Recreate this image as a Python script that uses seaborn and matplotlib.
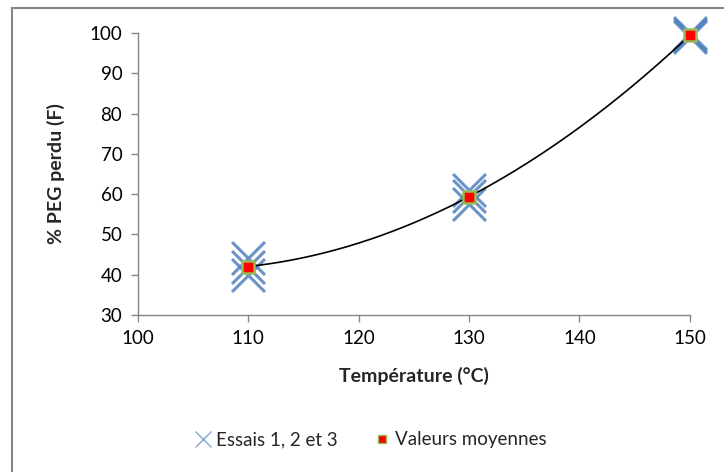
import numpy as np
import pandas as pd
import seaborn as sns
import matplotlib.pyplot as plt
from matplotlib.lines import Line2D
from matplotlib.patches import Rectangle

# three runs at each temperature
temperature = [110, 110, 110, 130, 130, 130, 150, 150, 150]
peg_lost = [44, 42, 40, 61, 59.5, 57.5, 100, 99.5, 99]

xticks = [100, 110, 120, 130, 140, 150]
yticks = [30, 40, 50, 60, 70, 80, 90, 100]

df = pd.DataFrame({"temp": temperature, "F": peg_lost})
means = df.groupby("temp", as_index=False)["F"].mean()

# 2nd order polynomial trend through the means (like Excel trendline)
coef = np.polyfit(means.temp, means.F, 2)
xs = np.linspace(110, 150, 200)
trend = pd.DataFrame({"temp": xs, "F": np.polyval(coef, xs)})

sns.set_style("white")
plt.rcParams["font.family"] = ["Lato", "DejaVu Sans"]

fig = plt.figure(figsize=(7.24, 4.72), dpi=100)
ax = fig.add_axes([0.19, 0.333, 0.763, 0.597])

blue = "#4F81BD"
sns.scatterplot(data=df, x="temp", y="F", marker="x", s=560, color=blue,
                linewidth=2.2, alpha=0.85, ax=ax, zorder=2, legend=False,
                clip_on=False)
sns.lineplot(data=trend, x="temp", y="F", color="black", linewidth=1.2,
             ax=ax, zorder=3)
sns.scatterplot(data=means, x="temp", y="F", marker="s", s=75, color="red",
                edgecolor="#9BBB59", linewidth=1.8, ax=ax, zorder=4, legend=False,
                clip_on=False)
for ln in ax.lines:
    ln.set_clip_on(False)

ax.set_xlim(100, 150)
ax.set_ylim(30, 100)
ax.set_xticks(xticks)
ax.set_yticks(yticks)
ax.tick_params(axis="both", labelsize=13.5, colors="#868686", length=5,
               width=1, direction="out", bottom=True, left=True, pad=6)
for s in ["top", "right"]:
    ax.spines[s].set_visible(False)
for s in ["left", "bottom"]:
    ax.spines[s].set_color("#868686")
    ax.spines[s].set_linewidth(1)
for lbl in ax.get_xticklabels() + ax.get_yticklabels():
    lbl.set_color("black")

ax.set_xlabel("Température (°C)", fontsize=14, fontweight="bold", labelpad=14)
ax.set_ylabel("% PEG perdu (F)", fontsize=14, fontweight="bold", labelpad=18)

handles = [
    Line2D([], [], marker="x", linestyle="none", color=blue, markersize=11,
           markeredgewidth=1.0, alpha=0.7),
    Line2D([], [], marker="s", linestyle="none", markerfacecolor="red",
           markeredgecolor="#9BBB59", markersize=6, markeredgewidth=1),
]
fig.legend(handles, ["Essais 1, 2 et 3", "Valeurs moyennes"], loc="center",
           bbox_to_anchor=(0.51, 0.068), ncol=2, frameon=False, fontsize=13.5,
           handletextpad=0.1, columnspacing=1.8, handlelength=1.2)

# chart area border
fig.patches.append(Rectangle((0.0166, -0.1), 1.2, 1.083, transform=fig.transFigure,
                             fill=False, edgecolor="#868686", linewidth=1.5))

fig.savefig("out.png", dpi=100)
